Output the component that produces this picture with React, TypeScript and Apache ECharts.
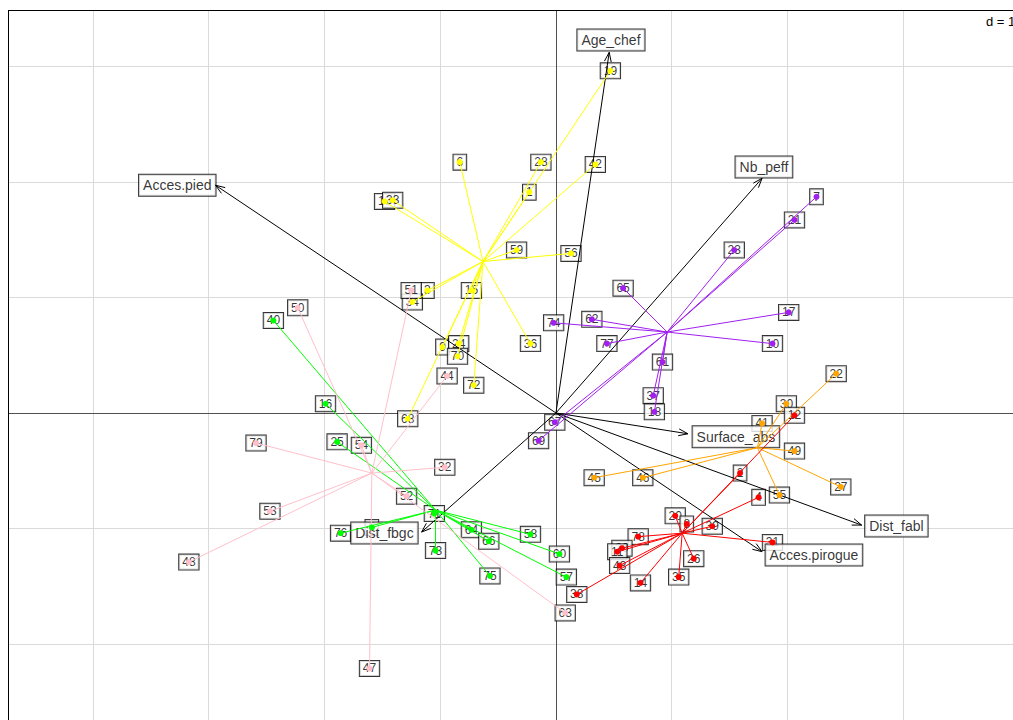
import React, { useEffect, useRef } from "react";
import * as echarts from "echarts";

// axis / grid ticks (d = 1)
const gridX = [-4, -3, -2, -1, 1, 2, 3];
const gridY = [-2, -1, 1, 2, 3];
const XMIN = -4.732;
const XMAX = 3.947;
const YMAX = 3.486;
const YMIN = -2.656;

// groups: centre + points
const yellowCenter = [-0.63, 1.31];
const yellowNames = ["6", "28", "42", "19", "1", "13", "33", "59", "56", "3", "15", "34", "36", "9", "24", "70", "72", "68"];
const yellowX = [-0.83, -0.13, 0.34, 0.47, -0.23, -1.48, -1.41, -0.34, 0.13, -1.11, -0.73, -1.24, -0.22, -0.98, -0.84, -0.85, -0.71, -1.28];
const yellowY = [2.17, 2.17, 2.15, 2.96, 1.91, 1.83, 1.84, 1.41, 1.38, 1.06, 1.06, 0.96, 0.60, 0.57, 0.60, 0.49, 0.24, -0.05];

const purpleCenter = [0.96, 0.70];
const purpleNames = ["7", "21", "23", "65", "74", "62", "17", "10", "77", "61", "37", "18", "67", "69"];
const purpleX = [2.25, 2.06, 1.54, 0.58, -0.02, 0.31, 2.01, 1.87, 0.44, 0.92, 0.84, 0.85, -0.01, -0.15];
const purpleY = [1.87, 1.67, 1.41, 1.08, 0.78, 0.81, 0.87, 0.60, 0.60, 0.44, 0.15, 0.01, -0.08, -0.24];

const orangeCenter = [1.74, -0.30];
const orangeNames = ["22", "30", "41", "49", "27", "55", "45", "46"];
const orangeX = [2.42, 1.99, 1.78, 2.06, 2.46, 1.93, 0.33, 0.75];
const orangeY = [0.34, 0.08, -0.09, -0.33, -0.64, -0.71, -0.56, -0.56];

const redCenter = [1.09, -1.04];
const redNames = ["12", "2", "4", "20", "8", "39", "31", "78", "29", "11", "43", "26", "35", "14", "38"];
const redX = [2.06, 1.59, 1.75, 1.03, 1.13, 1.35, 1.87, 0.71, 0.57, 0.53, 0.55, 1.19, 1.06, 0.73, 0.18];
const redY = [-0.02, -0.52, -0.73, -0.89, -0.96, -0.98, -1.12, -1.07, -1.17, -1.20, -1.32, -1.26, -1.42, -1.47, -1.57];

const greenCenter = [-1.04, -0.84];
const greenNames = ["40", "16", "25", "76", "5", "71", "73", "64", "66", "58", "60", "57", "75"];
const greenX = [-2.44, -1.99, -1.89, -1.86, -1.59, -1.05, -1.04, -0.73, -0.58, -0.22, 0.03, 0.09, -0.57];
const greenY = [0.80, 0.08, -0.25, -1.04, -0.99, -0.87, -1.19, -1.01, -1.11, -1.05, -1.22, -1.42, -1.41];

const pinkCenter = [-1.59, -0.52];
const pinkNames = ["50", "51", "44", "79", "54", "32", "52", "53", "48", "47", "63"];
const pinkX = [-2.23, -1.25, -0.94, -2.59, -1.68, -0.96, -1.29, -2.47, -3.17, -1.61, 0.08];
const pinkY = [0.91, 1.06, 0.32, -0.26, -0.28, -0.47, -0.72, -0.85, -1.29, -2.21, -1.73];

// variable arrows
const arrowNames = ["Age_chef", "Nb_peff", "Acces.pied", "Surface_abs", "Dist_fabl", "Acces.pirogue", "Dist_fbgc"];
const arrowX = [0.46, 1.78, -2.94, 1.14, 2.64, 1.78, -1.16];
const arrowY = [3.12, 2.03, 1.97, -0.18, -0.97, -1.20, -1.03];
const arrowLabelX = [0.475, 1.796, -3.27, 1.554, 2.94, 2.228, -1.481];
const arrowLabelY = [3.227, 2.128, 1.97, -0.205, -0.978, -1.228, -1.038];

const FONT = "Liberation Sans, Arial, sans-serif";

const groups = [
  { color: "#FFFF00", center: yellowCenter, names: yellowNames, xs: yellowX, ys: yellowY },
  { color: "#A020F0", center: purpleCenter, names: purpleNames, xs: purpleX, ys: purpleY },
  { color: "#FFA500", center: orangeCenter, names: orangeNames, xs: orangeX, ys: orangeY },
  { color: "#FF0000", center: redCenter, names: redNames, xs: redX, ys: redY },
  { color: "#00FF00", center: greenCenter, names: greenNames, xs: greenX, ys: greenY },
  { color: "#FFC0CB", center: pinkCenter, names: pinkNames, xs: pinkX, ys: pinkY },
];

export default function App() {
  const ref = useRef<HTMLDivElement>(null);
  useEffect(() => {
    document.body.style.margin = "0";
    const chart = echarts.init(ref.current!, null, { renderer: "svg" });

    const series: any[] = [];
    // grid lines
    series.push({
      type: "lines",
      coordinateSystem: "cartesian2d",
      silent: true,
      z: 0,
      lineStyle: { color: "#DADADA", width: 1, opacity: 1 },
      data: [
        ...gridX.map((x) => ({ coords: [[x, YMIN], [x, YMAX]] })),
        ...gridY.map((y) => ({ coords: [[XMIN, y], [XMAX, y]] })),
      ],
    });
    // axes through origin + frame (top, left)
    series.push({
      type: "lines",
      coordinateSystem: "cartesian2d",
      silent: true,
      z: 1,
      lineStyle: { color: "#505050", width: 1, opacity: 1 },
      data: [
        { coords: [[0, YMIN], [0, YMAX]] },
        { coords: [[XMIN, 0], [XMAX, 0]] },
      ],
    });
    series.push({
      type: "lines",
      coordinateSystem: "cartesian2d",
      silent: true,
      z: 1,
      lineStyle: { color: "#000", width: 1, opacity: 1 },
      data: [
        { coords: [[XMIN, YMAX], [XMAX, YMAX]] },
        { coords: [[XMIN, YMIN], [XMIN, YMAX]] },
      ],
    });
    // point label boxes
    groups.forEach((g) => {
      series.push({
        type: "scatter",
        z: 2,
        silent: true,
        symbolSize: 1,
        itemStyle: { color: "rgba(0,0,0,0)" },
        data: g.names.map((n, i) => ({ name: n, value: [g.xs[i], g.ys[i]] })),
        label: {
          show: true,
          position: "inside",
          formatter: "{b}",
          fontFamily: FONT,
          fontSize: 12,
          lineHeight: 13,
          color: "#000",
          backgroundColor: "#fff",
          borderColor: "#000",
          borderWidth: 1,
          padding: [1, 3, 1, 3],
        },
      });
    });
    // arrow label boxes
    series.push({
      type: "scatter",
      z: 3,
      silent: true,
      symbolSize: 1,
      itemStyle: { color: "rgba(0,0,0,0)" },
      data: arrowNames.map((n, i) => ({ name: n, value: [arrowLabelX[i], arrowLabelY[i]] })),
      label: {
        show: true,
        position: "inside",
        formatter: "{b}",
        fontFamily: FONT,
        fontSize: 14,
        lineHeight: 16,
        color: "#000",
        backgroundColor: "#fff",
        borderColor: "#000",
        borderWidth: 1,
        padding: [3, 4, 2, 4],
      },
    });
    // arrows
    series.push({
      type: "custom",
      coordinateSystem: "cartesian2d",
      z: 4,
      silent: true,
      data: arrowX.map((x, i) => [x, arrowY[i]]),
      renderItem: (params: any, api: any) => {
        const o = api.coord([0, 0]);
        const p = api.coord([api.value(0), api.value(1)]);
        const ang = Math.atan2(p[1] - o[1], p[0] - o[0]);
        const L = 10;
        const a = Math.PI / 9;
        const h1 = [p[0] - L * Math.cos(ang - a), p[1] - L * Math.sin(ang - a)];
        const h2 = [p[0] - L * Math.cos(ang + a), p[1] - L * Math.sin(ang + a)];
        return {
          type: "group",
          children: [
            { type: "line", shape: { x1: o[0], y1: o[1], x2: p[0], y2: p[1] }, style: { stroke: "#000", lineWidth: 1 } },
            { type: "polyline", shape: { points: [h1, p, h2] }, style: { stroke: "#000", fill: null, lineWidth: 1 } },
          ],
        };
      },
    });
    // class star lines
    groups.forEach((g) => {
      series.push({
        type: "lines",
        coordinateSystem: "cartesian2d",
        silent: true,
        z: 5,
        lineStyle: { color: g.color, width: 1, opacity: 1 },
        data: g.names.map((n, i) => ({ coords: [g.center, [g.xs[i], g.ys[i]]] })),
      });
    });
    // dots
    groups.forEach((g) => {
      series.push({
        type: "scatter",
        z: 6,
        silent: true,
        symbolSize: 6,
        itemStyle: { color: g.color, opacity: 1 },
        data: g.names.map((n, i) => [g.xs[i], g.ys[i]]),
      });
    });

    chart.setOption({
      animation: false,
      backgroundColor: "#fff",
      grid: { left: 8, top: 10, right: 0, bottom: 0, show: false },
      xAxis: { type: "value", min: XMIN, max: XMAX, show: false },
      yAxis: { type: "value", min: YMIN, max: YMAX, show: false },
      graphic: [
        { type: "text", left: 986, top: 15, style: { text: "d = 1", fontSize: 13, fontFamily: FONT, fill: "#000" } },
      ],
      series,
    });
    return () => chart.dispose();
  }, []);
  return <div ref={ref} style={{ position: "fixed", left: 0, top: 0, width: 1013, height: 720 }} />;
}
